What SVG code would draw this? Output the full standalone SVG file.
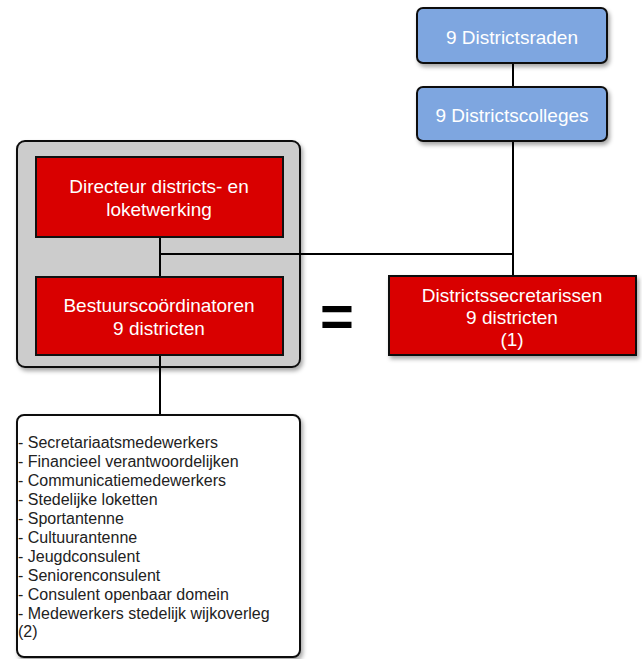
<svg xmlns="http://www.w3.org/2000/svg" width="642" height="659" viewBox="0 0 642 659">
<defs>
<filter id="sh" x="-10%" y="-10%" width="130%" height="140%">
<feDropShadow dx="2" dy="3" stdDeviation="2" flood-color="#000" flood-opacity="0.35"/>
</filter>
</defs>
<style>
text{font-family:"Liberation Sans",Arial,sans-serif;}
.blue{fill:#7ea6e0;stroke:#111;stroke-width:2;}
.red{fill:#d90000;stroke:#111;stroke-width:2;}
.gray{fill:#cccccc;stroke:#111;stroke-width:2;}
.white{fill:#fff;stroke:#111;stroke-width:2;}
.wt{fill:#fff;font-size:19px;text-anchor:middle;}
.lt{fill:#222;font-size:16px;}
.con{stroke:#000;stroke-width:2;fill:none;}
</style>
<g id="group-box">
<rect class="gray" x="17" y="141" width="283" height="226" rx="8" filter="url(#sh)"/>
</g>
<g id="connectors">
<line class="con" x1="513" y1="63" x2="513" y2="87"/>
<line class="con" x1="513" y1="141" x2="513" y2="276"/>
<line class="con" x1="160" y1="254" x2="513" y2="254"/>
<line class="con" x1="160" y1="237" x2="160" y2="277"/>
<line class="con" x1="160" y1="355" x2="160" y2="415"/>
</g>
<g id="districtsraden">
<rect class="blue" x="417" y="8" width="190" height="55" rx="6" filter="url(#sh)"/>
<text class="wt" x="512" y="44">9 Districtsraden</text>
</g>
<g id="districtscolleges">
<rect class="blue" x="417" y="87" width="190" height="54" rx="6" filter="url(#sh)"/>
<text class="wt" x="512" y="122">9 Districtscolleges</text>
</g>
<g id="directeur">
<rect class="red" x="36" y="157" width="247" height="80"/>
<text class="wt" x="159" y="193">Directeur districts- en</text>
<text class="wt" x="159" y="216">loketwerking</text>
</g>
<g id="bestuurscoordinatoren">
<rect class="red" x="36" y="277" width="247" height="78"/>
<text class="wt" x="159" y="312">Bestuurscoördinatoren</text>
<text class="wt" x="159" y="335">9 districten</text>
</g>
<g id="districtssecretarissen">
<rect class="red" x="389" y="276" width="247" height="79" filter="url(#sh)"/>
<text class="wt" x="512" y="302">Districtssecretarissen</text>
<text class="wt" x="512" y="324">9 districten</text>
<text class="wt" x="512" y="346">(1)</text>
</g>
<g id="equals">
<text x="337" y="336" font-size="58" font-weight="bold" text-anchor="middle" fill="#000">=</text>
</g>
<g id="medewerkers">
<rect class="white" x="17" y="415" width="283" height="242" rx="7" filter="url(#sh)"/>
<text class="lt" x="18" y="448">- Secretariaatsmedewerkers</text>
<text class="lt" x="18" y="467">- Financieel verantwoordelijken</text>
<text class="lt" x="18" y="486">- Communicatiemedewerkers</text>
<text class="lt" x="18" y="505">- Stedelijke loketten</text>
<text class="lt" x="18" y="524">- Sportantenne</text>
<text class="lt" x="18" y="543">- Cultuurantenne</text>
<text class="lt" x="18" y="562">- Jeugdconsulent</text>
<text class="lt" x="18" y="581">- Seniorenconsulent</text>
<text class="lt" x="18" y="600">- Consulent openbaar domein</text>
<text class="lt" x="18" y="619">- Medewerkers stedelijk wijkoverleg</text>
<text class="lt" x="18" y="637">(2)</text>
</g>
</svg>
